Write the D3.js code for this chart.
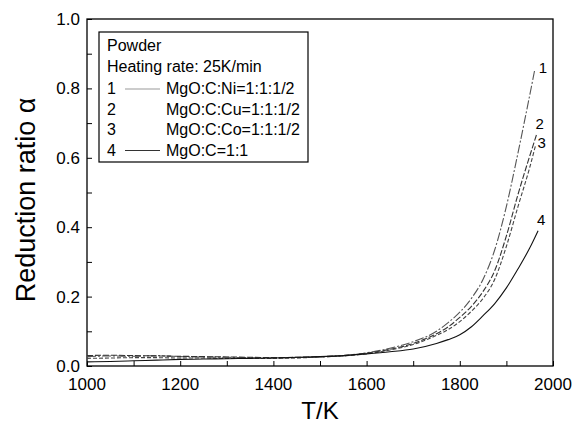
<!DOCTYPE html>
<html><head><meta charset="utf-8">
<script src="https://cdn.jsdelivr.net/npm/d3@7"></script>
<style>body{margin:0;background:#fff}svg{display:block;font-family:"Liberation Sans",Arial,sans-serif}</style>
</head><body><svg id="c" width="576" height="424"></svg>
<script>
const seriesNames = ["MgO:C:Ni=1:1:1/2","MgO:C:Cu=1:1:1/2","MgO:C:Co=1:1:1/2","MgO:C=1:1"];
const seriesIds = ["1","2","3","4"];
const baseT = [1000,1050,1100,1150,1200,1250,1300,1350,1400,1450,1500,1550,1600,1650,1700,1750,1775,1800,1825,1850,1875,1900,1925,1950];
const endT = [1961,1965,1963,1968];
const alphaNi = [0.027,0.029,0.028,0.030,0.027,0.026,0.025,0.024,0.023,0.024,0.026,0.030,0.038,0.051,0.070,0.100,0.125,0.155,0.195,0.250,0.335,0.460,0.615,0.780,0.855];
const alphaCu = [0.030,0.031,0.030,0.029,0.028,0.027,0.026,0.025,0.024,0.025,0.027,0.030,0.037,0.048,0.065,0.093,0.113,0.140,0.172,0.215,0.275,0.375,0.495,0.605,0.668];
const alphaCo = [0.022,0.023,0.024,0.024,0.023,0.023,0.022,0.022,0.022,0.023,0.026,0.029,0.035,0.046,0.062,0.088,0.105,0.128,0.158,0.195,0.250,0.345,0.460,0.572,0.638];
const alphaC  = [0.012,0.013,0.015,0.017,0.019,0.020,0.021,0.022,0.023,0.025,0.027,0.030,0.035,0.041,0.049,0.065,0.076,0.090,0.113,0.145,0.180,0.225,0.280,0.340,0.390];
const allAlpha = [alphaNi, alphaCu, alphaCo, alphaC];
const xTicks = [1000,1200,1400,1600,1800,2000];
const yTicks = [0.0,0.2,0.4,0.6,0.8,1.0];
const legendHeader = ["Powder","Heating rate: 25K/min"];

const styles = [
  {dash:"9,2,2,2", color:"#555"},
  {dash:"6,2", color:"#333"},
  {dash:"4,2", color:"#444"},
  {dash:null, color:"#111"}
];
const labelOffsets = [[8,-2],[3,-11],[6,-2],[3,-11]];

const svg = d3.select("#c");
const m = {l:87, r:553, t:19, b:366};
const x = d3.scaleLinear().domain([1000,2000]).range([m.l,m.r]);
const y = d3.scaleLinear().domain([0,1]).range([m.b,m.t]);

// ticks (inward)
const xa = d3.axisBottom(x).tickValues(d3.range(1000,2001,100)).tickSize(-5).tickFormat("");
svg.append("g").attr("transform",`translate(0,${m.b})`).call(xa)
  .call(g=>g.select(".domain").remove()).selectAll("line").attr("stroke","#000");
const ya = d3.axisLeft(y).tickValues(d3.range(0,1.001,0.1)).tickSize(-5).tickFormat("");
svg.append("g").attr("transform",`translate(${m.l},0)`).call(ya)
  .call(g=>g.select(".domain").remove()).selectAll("line").attr("stroke","#000");

// tick labels
svg.append("g").selectAll("text").data(xTicks).join("text")
  .attr("x",d=>x(d)).attr("y",390).attr("text-anchor","middle")
  .attr("font-size",17).text(d=>d);
svg.append("g").selectAll("text").data(yTicks).join("text")
  .attr("x",80).attr("y",d=>y(d)+6).attr("text-anchor","end")
  .attr("font-size",17).text(d=>d.toFixed(1));

// frame
svg.append("rect").attr("x",m.l).attr("y",m.t).attr("width",m.r-m.l).attr("height",m.b-m.t)
  .attr("fill","none").attr("stroke","#000").attr("stroke-width",1.3);

// titles
svg.append("text").attr("x",(m.l+m.r)/2).attr("y",419).attr("text-anchor","middle")
  .attr("font-size",24).text("T/K");
svg.append("text").attr("transform",`translate(35,200) rotate(-90)`)
  .attr("text-anchor","middle").attr("font-size",27).text("Reduction ratio α");

// curves
const line = d3.line().x(d=>x(d[0])).y(d=>y(d[1])).curve(d3.curveMonotoneX);
allAlpha.forEach((arr,i)=>{
  const Ts = baseT.concat([endT[i]]);
  const pts = Ts.map((t,j)=>[t,arr[j]]);
  svg.append("path").datum(pts).attr("d",line).attr("fill","none")
    .attr("stroke",styles[i].color).attr("stroke-width",1.1)
    .attr("stroke-dasharray",styles[i].dash);
  const last = pts[pts.length-1];
  const off = labelOffsets[i];
  svg.append("text").attr("x",x(last[0])+off[0]).attr("y",y(last[1])+off[1]+5.5)
    .attr("text-anchor","middle").attr("font-size",15).text(seriesIds[i]);
});

// legend
svg.append("rect").attr("x",99).attr("y",32).attr("width",209).attr("height",130)
  .attr("fill","#fff").attr("stroke","#000").attr("stroke-width",1.2);
legendHeader.forEach((t,i)=>{
  svg.append("text").attr("x",107).attr("y",51+i*21).attr("font-size",16).text(t);
});
seriesNames.forEach((t,i)=>{
  const by = 94+i*20.5;
  svg.append("text").attr("x",107).attr("y",by).attr("font-size",16).text(seriesIds[i]);
  svg.append("text").attr("x",166).attr("y",by).attr("font-size",16).text(t);
  if(i===0||i===3){
    svg.append("line").attr("x1",125).attr("x2",160).attr("y1",by-5).attr("y2",by-5)
      .attr("stroke",i===0?"#999":"#333").attr("stroke-width",1);
  }
});
</script></body></html>
